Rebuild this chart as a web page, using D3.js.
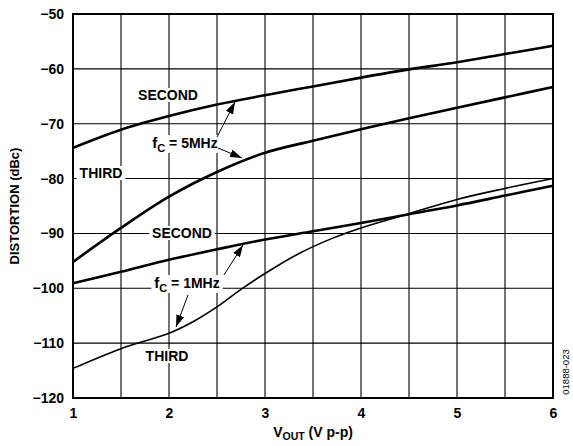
<!DOCTYPE html>
<html>
<head>
<meta charset="utf-8">
<script src="https://cdn.jsdelivr.net/npm/d3@7"></script>
<style>
  body { margin: 0; background: #fff; }
  text { font-family: Arial, "Liberation Sans", sans-serif; font-weight: bold; }
</style>
</head>
<body>
<script>
// curves: [Vout, dBc]
var second5 = [[1, -74.4], [1.5, -71.1], [2, -68.6], [2.5, -66.5], [3, -64.8], [3.5, -63.2], [4, -61.6], [4.5, -60.1], [5, -58.8], [5.5, -57.3], [6, -55.8]];
var third5 = [[1, -95.2], [1.5, -89], [2, -83.3], [2.5, -78.8], [3, -75.3], [3.5, -73.1], [4, -71], [4.5, -69], [5, -67.1], [5.5, -65.2], [6, -63.3]];
var second1 = [[1, -99.1], [1.5, -97], [2, -94.8], [2.5, -92.9], [3, -91.1], [3.5, -89.6], [4, -88.1], [4.5, -86.5], [5, -84.9], [5.5, -83.1], [6, -81.3]];
var third1 = [[1, -114.6], [1.5, -111], [2, -108.2], [2.25, -106.1], [2.5, -103.4], [2.75, -100.2], [3, -97.3], [3.35, -93.7], [3.7, -90.9], [4, -89], [4.5, -86.4], [5, -83.8], [5.5, -81.8], [6, -80]];

var xTicks = [1, 2, 3, 4, 5, 6];
var xGrid = [1.5, 2, 2.5, 3, 3.5, 4, 4.5, 5, 5.5];
var yTicks = [-120, -110, -100, -90, -80, -70, -60, -50];

var W = 573, H = 446;
var margin = {top: 14, right: 20, bottom: 48, left: 73};
var w = W - margin.left - margin.right;
var h = H - margin.top - margin.bottom;

var svg = d3.select("body").append("svg")
            .attr("width", W)
            .attr("height", H);

var defs = svg.append("defs");
defs.append("marker")
    .attr("id", "arrow")
    .attr("viewBox", "0 0 10 10")
    .attr("refX", 10).attr("refY", 5)
    .attr("markerWidth", 12).attr("markerHeight", 8)
    .attr("markerUnits", "userSpaceOnUse")
    .attr("orient", "auto")
    .attr("preserveAspectRatio", "none")
    .append("path")
    .attr("d", "M0,0 L10,5 L0,10 Z")
    .attr("fill", "#000");

var g = svg.append("g")
           .attr("transform", "translate(" + margin.left + "," + margin.top + ")");

var xScale = d3.scaleLinear().domain([1, 6]).range([0, w]);
var yScale = d3.scaleLinear().domain([-120, -50]).range([h, 0]);

// grid
g.selectAll(".vgrid").data(xGrid).enter().append("line")
  .attr("x1", d => xScale(d)).attr("x2", d => xScale(d))
  .attr("y1", 0).attr("y2", h)
  .attr("stroke", "#000").attr("stroke-width", 1.1);
g.selectAll(".hgrid").data(yTicks.slice(1, -1)).enter().append("line")
  .attr("x1", 0).attr("x2", w)
  .attr("y1", d => yScale(d)).attr("y2", d => yScale(d))
  .attr("stroke", "#000").attr("stroke-width", 1.1);

// axes (labels only, frame drawn separately)
var xAxis = d3.axisBottom(xScale).tickValues(xTicks).tickSize(0).tickPadding(10).tickFormat(d3.format("d"));
var yAxis = d3.axisLeft(yScale).tickValues(yTicks).tickSize(0).tickPadding(9)
              .tickFormat(d => "\u2212" + Math.abs(d));

var xa = g.append("g").attr("transform", "translate(0," + h + ")").call(xAxis);
var ya = g.append("g").call(yAxis);
[xa, ya].forEach(function(a) {
  a.select(".domain").remove();
  a.selectAll("text").attr("font-size", 14).attr("font-family", "Arial, 'Liberation Sans', sans-serif")
   .attr("font-weight", "bold").attr("fill", "#000");
});

var line = d3.line()
             .x(d => xScale(d[0]))
             .y(d => yScale(d[1]))
             .curve(d3.curveCatmullRom.alpha(0.5));

[[second5, 2.6], [third5, 2.6], [second1, 2.6], [third1, 1.6]].forEach(function(s) {
  g.append("path")
   .attr("d", line(s[0]))
   .attr("fill", "none")
   .attr("stroke", "#000")
   .attr("stroke-width", s[1]);
});

// frame
g.append("rect")
 .attr("width", w).attr("height", h)
 .attr("fill", "none").attr("stroke", "#000").attr("stroke-width", 2);

// labels with white background
function label(x, y, parts) {
  var t = svg.append("text").attr("x", x).attr("y", y)
             .attr("font-size", 14).attr("text-anchor", "middle").attr("fill", "#000");
  parts.forEach(function(p) {
    var ts = t.append("tspan").text(p.t);
    if (p.big) ts.attr("font-size", 15);
    if (p.sub) ts.attr("font-size", 11).attr("dy", 4);
    if (p.up) ts.attr("dy", -4);
  });
  var bb = t.node().getBBox();
  svg.insert("rect", function() { return t.node(); })
     .attr("x", bb.x - 3).attr("y", bb.y + 1)
     .attr("width", bb.width + 6).attr("height", bb.height - 2)
     .attr("fill", "#fff");
}

label(168, 100, [{t: "SECOND"}]);
label(185, 148, [{t: "f", big: true}, {t: "C", sub: true}, {t: " = 5MHz", up: true}]);
label(101, 178, [{t: "THIRD"}]);
label(182, 238, [{t: "SECOND"}]);
label(187, 288, [{t: "f", big: true}, {t: "C", sub: true}, {t: " = 1MHz", up: true}]);
label(167, 361, [{t: "THIRD"}]);

// arrows
var arrows = [[217, 137, 235, 102], [218, 148, 242, 158], [224, 275, 243, 245], [188, 295, 176, 327]];
arrows.forEach(function(a) {
  svg.append("line")
     .attr("x1", a[0]).attr("y1", a[1]).attr("x2", a[2]).attr("y2", a[3])
     .attr("stroke", "#000").attr("stroke-width", 1)
     .attr("marker-end", "url(#arrow)");
});

// axis titles
svg.append("text")
   .attr("transform", "translate(19," + (margin.top + h / 2) + ") rotate(-90)")
   .attr("text-anchor", "middle").attr("font-size", 13)
   .text("DISTORTION (dBc)");

var xt = svg.append("text")
   .attr("x", margin.left + w / 2).attr("y", 437)
   .attr("text-anchor", "middle").attr("font-size", 14);
xt.append("tspan").text("V");
xt.append("tspan").text("OUT").attr("font-size", 10.5).attr("dy", 3);
xt.append("tspan").text(" (V p-p)").attr("dy", -3);

svg.append("text")
   .attr("transform", "translate(569,372) rotate(-90)")
   .attr("text-anchor", "middle").attr("font-size", 9.5)
   .style("font-weight", "normal")
   .text("01888-023");
</script>
</body>
</html>
